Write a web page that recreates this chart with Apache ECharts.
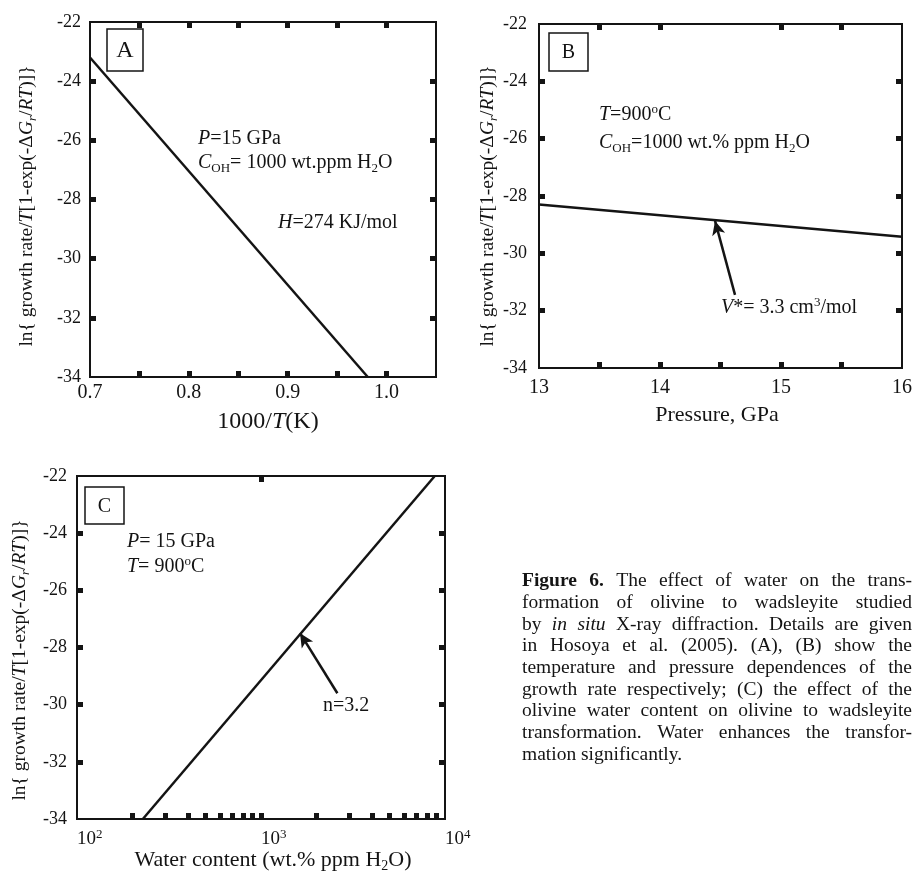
<!DOCTYPE html>
<html>
<head>
<meta charset="utf-8">
<script src="https://cdn.jsdelivr.net/npm/echarts@6/dist/echarts.min.js"></script>
<style>
  html, body { margin: 0; padding: 0; background: #ffffff; }
  #chart { width: 915px; height: 871px; }
</style>
</head>
<body>
<div id="chart"></div>
<script>
// ---- Panel A: temperature dependence of the growth rate ----
const invTempA = [0.70, 0.981];          // 1000/T (K)
const lnRateA = [-23.2, -34.0];
const xTicksA = [0.75, 0.80, 0.85, 0.90, 0.95, 1.00];
const xLabelsA = [0.7, 0.8, 0.9, 1.0];

// ---- Panel B: pressure dependence ----
const pressureB = [13, 16];              // GPa
const lnRateB = [-28.3, -29.42];
const xTicksB = [13.5, 14, 14.5, 15, 15.5];
const xTopTicksB = [13.5, 14, 15, 15.5];
const xLabelsB = [13, 14, 15, 16];
const arrowB = [[14.62, -31.45], [14.455, -28.87]];

// ---- Panel C: water content dependence ----
const waterC = [228, 8800];              // wt. ppm H2O
const lnRateC = [-34, -22];
const xTicksC = [200, 300, 400, 500, 600, 700, 800, 900, 1000,
                 2000, 3000, 4000, 5000, 6000, 7000, 8000, 9000];
const xTopTicksC = [1000];
const xLabelsC = [100, 1000, 10000];
const arrowC = [[2600, -29.6], [1630, -27.5]];

// ---- shared y scale ----
const yLabels = [-22, -24, -26, -28, -30, -32, -34];
const yTicks = [-24, -26, -28, -30, -32];

// ---- caption ----
const captionLines = [
  '**Figure** **6.** The effect of water on the trans-',
  'formation of olivine to wadsleyite studied',
  'by _in_ _situ_ X-ray diffraction. Details are given',
  'in Hosoya et al. (2005). (A), (B) show the',
  'temperature and pressure dependences of the',
  'growth rate respectively; (C) the effect of the',
  'olivine water content on olivine to wadsleyite',
  'transformation. Water enhances the transfor-',
  'mation significantly.'
];

const SERIF = '"Liberation Serif", "Times New Roman", Times, serif';
const INK = '#141414';

function pairs(xs, ys) { return xs.map((x, i) => [x, ys[i]]); }

const tickStyle = (values) => ({
  show: true, inside: true, length: 6, customValues: values,
  lineStyle: { color: INK, width: 5 }
});

function xAxes(gi, opts) {
  const base = {
    gridIndex: gi, type: opts.type || 'value', min: opts.min, max: opts.max,
    axisLine: { show: false }, splitLine: { show: false }, minorTick: { show: false }
  };
  if (opts.type === 'log') base.logBase = 10;
  return [
    Object.assign({}, base, {
      position: 'bottom',
      axisTick: tickStyle(opts.ticks),
      axisLabel: Object.assign({
        customValues: opts.labels, color: INK, fontFamily: SERIF,
        fontSize: opts.labelSize, margin: opts.margin
      }, opts.labelExtra || {})
    }),
    Object.assign({}, base, {
      position: 'top',
      axisTick: tickStyle(opts.topTicks),
      axisLabel: { show: false }
    })
  ];
}

function yAxes(gi, margin) {
  const base = {
    gridIndex: gi, type: 'value', min: -34, max: -22,
    axisLine: { show: false }, splitLine: { show: false }
  };
  return [
    Object.assign({}, base, {
      position: 'left',
      axisTick: tickStyle(yTicks),
      axisLabel: { customValues: yLabels, color: INK, fontFamily: SERIF, fontSize: 18, margin: margin }
    }),
    Object.assign({}, base, {
      position: 'right',
      axisTick: tickStyle(yTicks),
      axisLabel: { show: false }
    })
  ];
}

const lineSeries = (xi, data, arrow) => {
  const s = {
    type: 'line', xAxisIndex: xi, yAxisIndex: xi, data: data,
    showSymbol: false, symbol: 'none', clip: true, silent: true,
    lineStyle: { color: INK, width: 2.5 }
  };
  if (arrow) {
    s.markLine = {
      silent: true, symbol: ['none', 'arrow'], symbolSize: [10, 14],
      label: { show: false },
      lineStyle: { color: INK, width: 2.5, type: 'solid' },
      data: [[{ coord: arrow[0] }, { coord: arrow[1] }]]
    };
  }
  return s;
};

// rich styles for the in-plot annotations
const annRich = {
  i: { fontFamily: SERIF, fontSize: 20, fontStyle: 'italic', fill: INK, lineHeight: 24 },
  sub: { fontFamily: SERIF, fontSize: 13, fill: INK, lineHeight: 13, verticalAlign: 'bottom' },
  sup: { fontFamily: SERIF, fontSize: 13, fill: INK, lineHeight: 13, verticalAlign: 'top' }
};
function ann(x, y, text) {
  return {
    type: 'text', x: x, y: y, silent: true,
    style: {
      text: text, fontFamily: SERIF, fontSize: 20, fill: INK, lineHeight: 24,
      align: 'left', verticalAlign: 'middle', rich: annRich
    }
  };
}
function panelBox(x, y, w, h, letter, size) {
  return [
    { type: 'rect', silent: true, shape: { x: x, y: y, width: w, height: h },
      style: { fill: 'none', stroke: INK, lineWidth: 1.5 } },
    { type: 'text', silent: true, x: x + w / 2, y: y + h / 2 + 1,
      style: { text: letter, fontFamily: SERIF, fontSize: size, fill: INK, align: 'center', verticalAlign: 'middle' } }
  ];
}
const yTitleRich = {
  i: { fontFamily: SERIF, fontSize: 19.5, fontStyle: 'italic', fill: INK, lineHeight: 24 },
  si: { fontFamily: SERIF, fontSize: 13, fontStyle: 'italic', fill: INK, lineHeight: 13, verticalAlign: 'bottom' }
};
function yTitle(x, y) {
  return {
    type: 'text', silent: true, x: x, y: y, rotation: Math.PI / 2,
    style: {
      text: 'ln{ growth rate/{i|T}[1-exp(-Δ{i|G}{si|r}/{i|RT})]}',
      fontFamily: SERIF, fontSize: 19.5, fill: INK, lineHeight: 24,
      align: 'center', verticalAlign: 'middle', rich: yTitleRich
    }
  };
}
function xTitle(x, y, text, size) {
  return {
    type: 'text', silent: true, x: x, y: y,
    style: {
      text: text, fontFamily: SERIF, fontSize: size, fill: INK, lineHeight: 26,
      align: 'center', verticalAlign: 'middle',
      rich: {
        i: { fontFamily: SERIF, fontSize: size, fontStyle: 'italic', fill: INK, lineHeight: 26 },
        sub: { fontFamily: SERIF, fontSize: 14, fill: INK, lineHeight: 14, verticalAlign: 'bottom' }
      }
    }
  };
}

// justified caption, one text element per word
function captionElements(left, right, top, step, size) {
  const ctx = document.createElement('canvas').getContext('2d');
  const out = [];
  captionLines.forEach((line, li) => {
    const words = line.split(' ').map(w => {
      let weight = 'normal', style = 'normal', t = w;
      if (/^\*\*.*\*\*$/.test(w)) { weight = 'bold'; t = w.slice(2, -2); }
      else if (/^_.*_$/.test(w)) { style = 'italic'; t = w.slice(1, -1); }
      ctx.font = style + ' ' + weight + ' ' + size + 'px ' + SERIF;
      return { t, weight, style, w: ctx.measureText(t).width };
    });
    ctx.font = size + 'px ' + SERIF;
    const space = ctx.measureText(' ').width;
    const total = words.reduce((s, w) => s + w.w, 0);
    const last = li === captionLines.length - 1;
    const gap = last ? space : (right - left - total) / (words.length - 1);
    let x = left;
    words.forEach(w => {
      out.push({
        type: 'text', silent: true, x: x, y: top + li * step,
        style: {
          text: w.t, fontFamily: SERIF, fontSize: size, fontWeight: w.weight,
          fontStyle: w.style, fill: INK, align: 'left', verticalAlign: 'middle'
        }
      });
      x += w.w + gap;
    });
  });
  return out;
}

const chart = echarts.init(document.getElementById('chart'), null, { renderer: 'canvas' });

const gridStyle = { show: true, borderColor: INK, borderWidth: 2, backgroundColor: 'transparent' };

const option = {
  animation: false,
  backgroundColor: '#ffffff',
  grid: [
    Object.assign({ left: 90, top: 22, width: 346, height: 355 }, gridStyle),
    Object.assign({ left: 539, top: 24, width: 369, height: 344 }, gridStyle),
    Object.assign({ left: 77, top: 476, width: 368, height: 343 }, gridStyle)
  ],
  xAxis: [].concat(
    xAxes(0, { min: 0.7, max: 1.05, ticks: xTicksA, topTicks: xTicksA, labels: xLabelsA,
               labelSize: 20, margin: 6, labelExtra: { formatter: v => Number(v).toFixed(1) } }),
    xAxes(1, { min: 13, max: 16, ticks: xTicksB, topTicks: xTopTicksB, labels: xLabelsB,
               labelSize: 20, margin: 10 }),
    xAxes(2, { type: 'log', min: 100, max: 10000, ticks: xTicksC, topTicks: xTopTicksC, labels: xLabelsC,
               labelSize: 19, margin: 9,
               labelExtra: {
                 align: 'left',
                 formatter: v => '{b|10}{s|' + Math.round(Math.log10(v)) + '}',
                 rich: {
                   b: { fontFamily: SERIF, fontSize: 19, color: INK, lineHeight: 22 },
                   s: { fontFamily: SERIF, fontSize: 13, color: INK, lineHeight: 12, verticalAlign: 'top' }
                 }
               } })
  ),
  yAxis: [].concat(yAxes(0, 9), yAxes(1, 12), yAxes(2, 10)),
  series: [
    lineSeries(0, pairs(invTempA, lnRateA)),
    lineSeries(2, pairs(pressureB, lnRateB), arrowB),
    lineSeries(4, pairs(waterC, lnRateC), arrowC)
  ],
  graphic: [].concat(
    panelBox(107, 29, 36, 42, 'A', 24),
    panelBox(549, 33, 39, 38, 'B', 20),
    panelBox(85, 487, 39, 37, 'C', 20),
    [
      ann(198, 139, '{i|P}=15 GPa'),
      ann(198, 163, '{i|C}{sub|OH}= 1000 wt.ppm H{sub|2}O'),
      ann(278, 223, '{i|H}=274 KJ/mol'),
      ann(599, 115, '{i|T}=900{sup|o}C'),
      ann(599, 143, '{i|C}{sub|OH}=1000 wt.% ppm H{sub|2}O'),
      ann(721, 308, '{i|V}*= 3.3 cm{sup|3}/mol'),
      ann(127, 542, '{i|P}= 15 GPa'),
      ann(127, 567, '{i|T}= 900{sup|o}C'),
      ann(323, 706, 'n=3.2'),
      yTitle(27, 206),
      yTitle(488, 206),
      yTitle(20, 660),
      xTitle(268, 422, '1000/{i|T}(K)', 24),
      xTitle(717, 415, 'Pressure, GPa', 22),
      xTitle(273, 860, 'Water content (wt.% ppm H{sub|2}O)', 22)
    ],
    captionElements(522, 912, 581, 21.7, 19.5)
  )
};

chart.setOption(option);
</script>
</body>
</html>
